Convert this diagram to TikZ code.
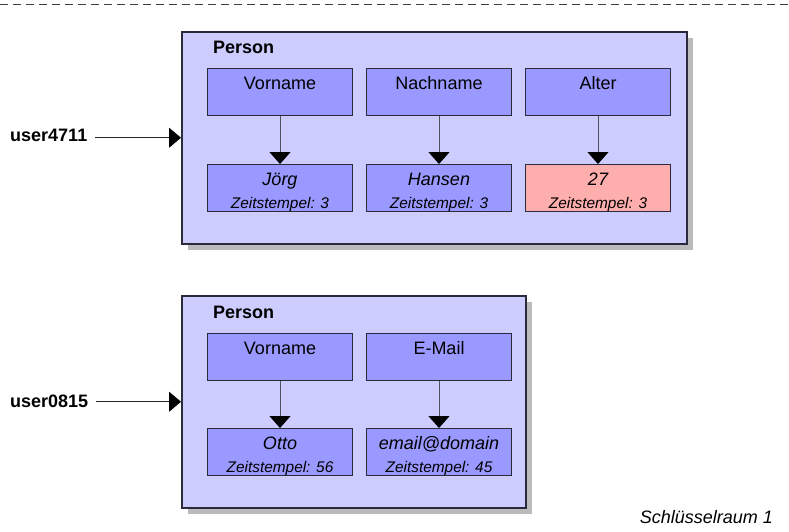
\documentclass[tikz,border=0pt]{standalone}
\usepackage{fontspec}
\setmainfont{Liberation Sans}
\usetikzlibrary{arrows.meta,shadows}

\definecolor{outerfill}{HTML}{CCCCFF}
\definecolor{innerfill}{HTML}{9999FF}
\definecolor{hotfill}{HTML}{FFAEAE}
\definecolor{shadowgray}{HTML}{BBBBBB}
\definecolor{edgegray}{HTML}{2A2A3A}
\definecolor{linegray}{HTML}{505060}

\begin{document}
\begin{tikzpicture}[x=1pt,y=-1pt,
  bigfont/.style={font=\fontsize{18}{21}\selectfont},
  stampfont/.style={font=\fontsize{15.4}{18}\selectfont\itshape},
  outerbox/.style={draw=edgegray, line width=1.5pt, fill=outerfill, anchor=north west,
    inner sep=0pt, minimum height=212pt,
    drop shadow={shadow xshift=6.5pt, shadow yshift=-6.5pt, opacity=1, fill=shadowgray}},
  attrbox/.style={draw=edgegray, line width=1pt, fill=innerfill, anchor=north west,
    inner sep=0pt, minimum width=145pt, text height=20.5pt, text depth=26.5pt, bigfont},
  keybox/.style={attrbox},
  valbox/.style={attrbox, font=\fontsize{18}{21}\selectfont\itshape},
  stamp/.style={stampfont, anchor=base, inner sep=0pt},
  title/.style={font=\fontsize{18}{21}\selectfont\bfseries, anchor=base west, inner sep=0pt},
  userlabel/.style={font=\fontsize{18}{21}\selectfont\bfseries, anchor=base west, inner sep=3pt},
  conn/.style={draw=linegray, line width=1pt, -{Triangle[length=12pt,width=21pt,color=black]}},
  entry/.style={draw=black!85, line width=1pt, shorten <=5pt, -{Triangle[length=12pt,width=20pt,color=black]}},
  spaceline/.style={draw=black!75, line width=1pt, dash pattern=on 7.5pt off 5.5pt}
]
\useasboundingbox (0,0) rectangle (789,531);

% boundary of the key space
\draw[spaceline] (0,4.5) -- (789,4.5);

% ---- first row: user4711 ----
\node[outerbox, minimum width=505pt] (p1) at (181,31) {};
\node[title] (p1t) at (213,53.3) {Person};

\node[keybox] (k11) at (207,68) {Vorname};
\node[keybox] (k12) at (366,68) {Nachname};
\node[keybox] (k13) at (525,68) {Alter};

\node[valbox] (v11) at (207,164) {Jörg};
\node[valbox] (v12) at (366,164) {Hansen};
\node[valbox, fill=hotfill] (v13) at (525,164) {27};

\node[stamp] (s11) at ([yshift=3.8pt]v11.south) {Zeitstempel: 3};
\node[stamp] (s12) at ([yshift=3.8pt]v12.south) {Zeitstempel: 3};
\node[stamp] (s13) at ([yshift=3.8pt]v13.south) {Zeitstempel: 3};

\draw[conn] (k11) -- (v11);
\draw[conn] (k12) -- (v12);
\draw[conn] (k13) -- (v13);

\node[userlabel] (u1) at (7,141.7) {user4711};
\draw[entry] (u1.east |- p1.west) -- (p1.west);

% ---- second row: user0815 ----
\node[outerbox, minimum width=344pt] (p2) at (181,295) {};
\node[title] (p2t) at (213,318) {Person};

\node[keybox] (k21) at (207,333) {Vorname};
\node[keybox] (k22) at (366,333) {E-Mail};

\node[valbox] (v21) at (207,428) {Otto};
\node[valbox] (v22) at (366,428) {email@domain};

\node[stamp] (s21) at ([yshift=3.8pt]v21.south) {Zeitstempel: 56};
\node[stamp] (s22) at ([yshift=3.8pt]v22.south) {Zeitstempel: 45};

\draw[conn] (k21) -- (v21);
\draw[conn] (k22) -- (v22);

\node[userlabel] (u2) at (7,407.5) {user0815};
\draw[entry] (u2.east |- p2.west) -- (p2.west);

% caption of the key space
\node[font=\fontsize{18}{21}\selectfont\itshape, anchor=base east, inner sep=0pt] (cap) at (773,523) {Schlüsselraum 1};
\end{tikzpicture}
\end{document}
